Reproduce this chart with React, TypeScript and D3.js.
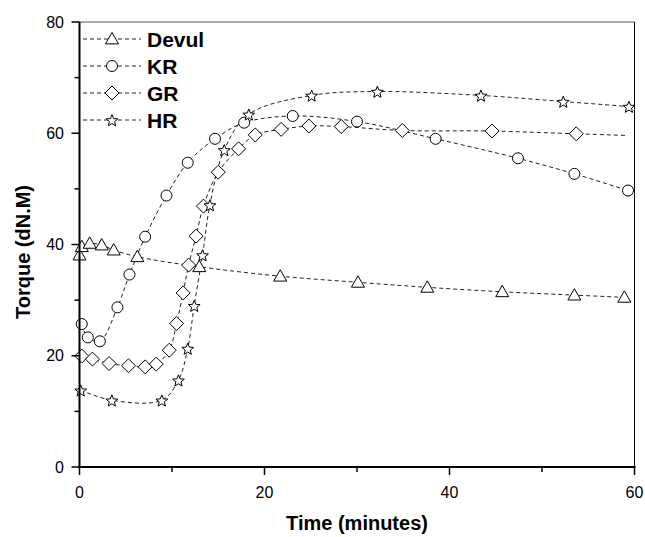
import React from "react";
import * as d3 from "d3";

const devulT = [0, 0.25, 1.1, 2.4, 3.7, 6.25, 12.95, 21.7, 30.1, 37.6, 45.7, 53.5, 58.9];
const devulV = [38.1, 39.6, 40.2, 39.9, 39.0, 37.8, 36.0, 34.3, 33.2, 32.3, 31.5, 30.9, 30.5];

const krT = [0.24, 0.9, 2.2, 4.1, 5.4, 7.1, 9.4, 11.7, 14.65, 17.8, 23.05, 30.0, 38.5, 47.4, 53.5, 59.3];
const krV = [25.7, 23.3, 22.6, 28.7, 34.6, 41.4, 48.8, 54.7, 59.0, 61.9, 63.1, 62.1, 59.0, 55.5, 52.7, 49.7];

const grT = [0.24, 1.4, 3.2, 5.3, 7.1, 8.3, 9.7, 10.5, 11.2, 11.8, 12.6, 13.4, 15.0, 17.2, 19.0, 21.8, 24.8, 28.3, 34.9, 44.6, 53.7, 59.3];
const grV = [19.95, 19.4, 18.6, 18.2, 18.0, 18.5, 21.0, 25.8, 31.3, 36.3, 41.5, 46.9, 53.0, 57.2, 59.7, 60.7, 61.3, 61.2, 60.5, 60.4, 59.9, 59.6];
const grMarkerCount = 21;

const hrT = [0.13, 3.5, 8.9, 10.7, 11.7, 12.4, 13.3, 14.1, 15.65, 18.3, 25.1, 32.2, 43.4, 52.3, 59.4];
const hrV = [13.8, 12.0, 12.0, 15.6, 21.3, 29.0, 38.1, 47.1, 57.0, 63.4, 66.8, 67.5, 66.8, 65.7, 64.8];

const seriesNames = ["Devul", "KR", "GR", "HR"];
const xTicks = [0, 20, 40, 60];
const xMinor = [10, 30, 50];
const yTicks = [0, 20, 40, 60, 80];
const yMinor = [10, 30, 50, 70];

const FONT = "'Liberation Sans', Arial, Helvetica, sans-serif";

function markerPath(kind: string, cx: number, cy: number): string {
  if (kind === "Devul") {
    const s = 6.5;
    return `M${cx},${cy - s}L${cx + s},${cy + s * 0.75}L${cx - s},${cy + s * 0.75}Z`;
  }
  if (kind === "GR") {
    const s = 7;
    return `M${cx},${cy - s}L${cx + s},${cy}L${cx},${cy + s}L${cx - s},${cy}Z`;
  }
  if (kind === "HR") {
    const ro = 6.2, ri = 2.7;
    let p = "";
    for (let i = 0; i < 10; i++) {
      const r = i % 2 === 0 ? ro : ri;
      const a = -Math.PI / 2 + (i * Math.PI) / 5;
      p += (i === 0 ? "M" : "L") + (cx + r * Math.cos(a)).toFixed(2) + "," + (cy + r * Math.sin(a) + 0.8).toFixed(2);
    }
    return p + "Z";
  }
  return "";
}

function Marker({ kind, cx, cy }: { kind: string; cx: number; cy: number }) {
  if (kind === "KR") {
    return <circle cx={cx} cy={cy} r={5.5} fill="#fff" stroke="#000" strokeWidth={1} />;
  }
  return <path d={markerPath(kind, cx, cy)} fill="#fff" stroke="#000" strokeWidth={1} strokeLinejoin="miter" />;
}

export default function App() {
  const W = 645, H = 537;
  const x = d3.scaleLinear().domain([0, 60]).range([79.5, 634.5]);
  const y = d3.scaleLinear().domain([0, 80]).range([467, 22]);

  const series = [
    { name: "Devul", t: devulT, v: devulV, n: devulT.length },
    { name: "KR", t: krT, v: krV, n: krT.length },
    { name: "GR", t: grT, v: grV, n: grMarkerCount },
    { name: "HR", t: hrT, v: hrV, n: hrT.length },
  ];

  const line = d3
    .line<[number, number]>()
    .x((d) => x(d[0]))
    .y((d) => y(d[1]))
    .curve(d3.curveCatmullRom.alpha(0.5));

  const legendY = [39, 66, 93, 120];

  return (
    <svg width={W} height={H} style={{ position: "absolute", left: 0, top: 0, background: "#fff" }}>
      <rect x={0} y={0} width={W} height={H} fill="#fff" />
      {/* frame */}
      <line x1={x(0)} x2={x(60)} y1={y(80)} y2={y(80)} stroke="#555" strokeWidth={1} />
      <line x1={x(60)} x2={x(60)} y1={y(80)} y2={y(0)} stroke="#000" strokeWidth={1} />
      {/* series lines */}
      {series.map((s) => {
        const pts: [number, number][] = s.t.map((t, i) => [t, s.v[i]]);
        return (
          <path
            key={s.name + "l"}
            d={line(pts) || ""}
            fill="none"
            stroke="#222"
            strokeWidth={1}
            strokeDasharray="4,3"
          />
        );
      })}
      {series.map((s) =>
        s.t.slice(0, s.n).map((t, i) => (
          <Marker key={s.name + i} kind={s.name} cx={x(t)} cy={y(s.v[i])} />
        ))
      )}
      {/* axes */}
      <line x1={x(0)} x2={x(60) + 1} y1={y(0)} y2={y(0)} stroke="#000" strokeWidth={2} />
      <line x1={x(0)} x2={x(0)} y1={y(0) + 1} y2={y(80)} stroke="#000" strokeWidth={2} />
      {xTicks.map((t) => (
        <g key={"xt" + t}>
          <line x1={x(t)} x2={x(t)} y1={y(0)} y2={y(0) + 8} stroke="#000" strokeWidth={1.5} />
          <text x={x(t)} y={498} fontFamily={FONT} fontSize={16} textAnchor="middle" fill="#000">
            {t}
          </text>
        </g>
      ))}
      {xMinor.map((t) => (
        <line key={"xm" + t} x1={x(t)} x2={x(t)} y1={y(0)} y2={y(0) + 5} stroke="#000" strokeWidth={1.5} />
      ))}
      {yTicks.map((v) => (
        <g key={"yt" + v}>
          <line x1={x(0) - 8} x2={x(0)} y1={y(v)} y2={y(v)} stroke="#000" strokeWidth={1.5} />
          <text x={64} y={y(v) + 5.5} fontFamily={FONT} fontSize={16} textAnchor="end" fill="#000">
            {v}
          </text>
        </g>
      ))}
      {yMinor.map((v) => (
        <line key={"ym" + v} x1={x(0) - 5} x2={x(0)} y1={y(v)} y2={y(v)} stroke="#000" strokeWidth={1.5} />
      ))}
      {/* axis titles */}
      <text x={357} y={530} fontFamily={FONT} fontSize={20} fontWeight="bold" textAnchor="middle" fill="#000">
        Time (minutes)
      </text>
      <text
        transform={`translate(30,252) rotate(-90)`}
        fontFamily={FONT}
        fontSize={20}
        fontWeight="bold"
        textAnchor="middle"
        fill="#000"
      >
        Torque (dN.M)
      </text>
      {/* legend */}
      {seriesNames.map((nm, i) => (
        <g key={"lg" + nm}>
          <line x1={83} x2={141} y1={legendY[i]} y2={legendY[i]} stroke="#222" strokeWidth={1} strokeDasharray="4,3" />
          <Marker kind={nm} cx={112} cy={legendY[i]} />
          <text x={147} y={legendY[i] + 7.5} fontFamily={FONT} fontSize={21} fontWeight="bold" fill="#000">
            {nm}
          </text>
        </g>
      ))}
    </svg>
  );
}
